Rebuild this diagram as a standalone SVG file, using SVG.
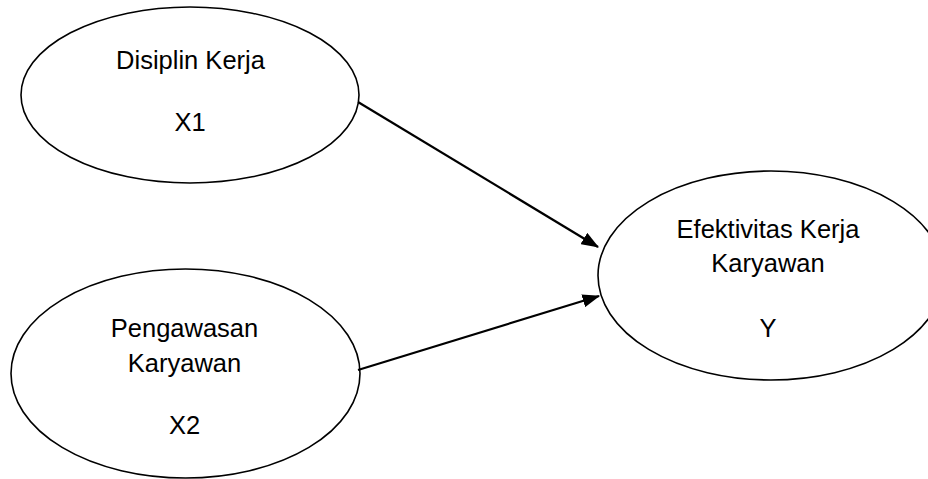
<svg xmlns="http://www.w3.org/2000/svg" width="928" height="479" viewBox="0 0 928 479">
<style>
.node{fill:#fff;stroke:#000;stroke-width:1.6}
.lbl{font-family:"Liberation Sans",Arial,sans-serif;font-size:25.5px;fill:#000;text-anchor:middle}
.edge{stroke:#000;stroke-width:2.2;fill:none;marker-end:url(#ah)}
</style>
<defs>
<marker id="ah" markerWidth="8" markerHeight="6" refX="7.5" refY="3" orient="auto" markerUnits="strokeWidth">
<path d="M0,0 L8,3 L0,6 Z" fill="#000"/>
</marker>
</defs>
<rect width="928" height="479" fill="#fff"/>
<g id="x1">
<ellipse class="node" cx="190" cy="95" rx="169" ry="88"/>
<text class="lbl" x="190.5" y="69">Disiplin Kerja</text>
<text class="lbl" x="190" y="131">X1</text>
</g>
<g id="x2">
<ellipse class="node" cx="185.5" cy="373.5" rx="174.5" ry="104.5"/>
<text class="lbl" x="184.5" y="337">Pengawasan</text>
<text class="lbl" x="184.5" y="372">Karyawan</text>
<text class="lbl" x="184.5" y="434">X2</text>
</g>
<g id="y">
<ellipse class="node" cx="771" cy="275.5" rx="173" ry="104.5"/>
<text class="lbl" x="768" y="238">Efektivitas Kerja</text>
<text class="lbl" x="768" y="272">Karyawan</text>
<text class="lbl" x="768" y="337">Y</text>
</g>
<g id="connectors">
<line class="edge" x1="358" y1="102" x2="598" y2="247"/>
<line class="edge" x1="358" y1="370" x2="599" y2="296"/>
</g>
</svg>
